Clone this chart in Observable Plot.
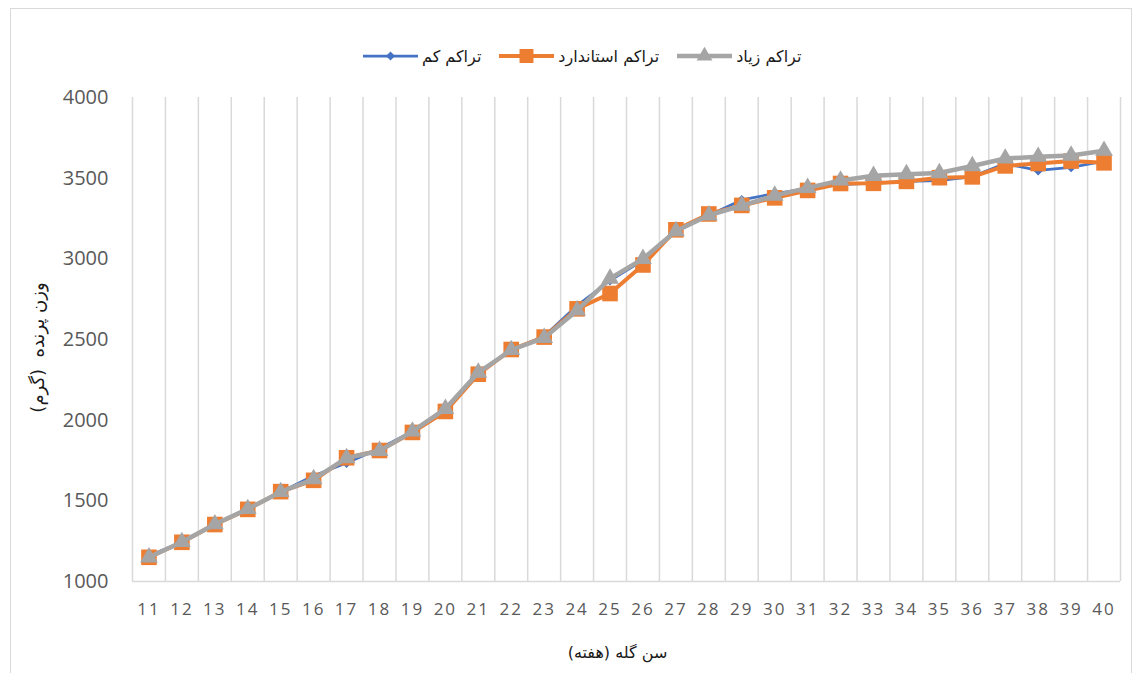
<!DOCTYPE html>
<html>
<head>
<meta charset="utf-8">
<script src="https://cdn.jsdelivr.net/npm/d3@7"></script>
<script src="https://cdn.jsdelivr.net/npm/@observablehq/plot@0.6"></script>
<style>
  body { margin: 0; background: #fff; }
  #wrap { position: relative; width: 1139px; height: 673px; overflow: hidden; background: #fff; }
  #frame { position: absolute; left: 10px; top: 8px; width: 1122px; height: 700px; border: 1px solid #d9d9d9; box-sizing: border-box; }
  #legend { position: absolute; left: 363px; top: 44px; height: 24px; display: flex; align-items: center; gap: 18px; direction: ltr; }
  .item { display: flex; align-items: center; }
  .item span { font-family: "DejaVu Sans", sans-serif; font-size: 16px; color: #1a1a1a; margin-left: 4px; direction: rtl; unicode-bidi: embed; }
  #chart { position: absolute; left: 0; top: 80px; }
  g[aria-label="x-axis tick label"] text { letter-spacing: 2px; }
</style>
</head>
<body>
<div id="wrap">
  <div id="frame"></div>
  <div id="legend"></div>
  <div id="chart"></div>
</div>
<script>
// ---- data ----
const weeks = [11,12,13,14,15,16,17,18,19,20,21,22,23,24,25,26,27,28,29,30,31,32,33,34,35,36,37,38,39,40];
const lowDensity = [1160,1245,1355,1450,1555,1655,1735,1825,1930,2060,2290,2435,2520,2710,2865,2990,3170,3270,3365,3405,3435,3460,3470,3480,3485,3510,3590,3548,3567,3605];
const standardDensity = [1150,1243,1353,1447,1557,1627,1767,1812,1924,2054,2285,2438,2515,2690,2785,2962,3180,3278,3331,3378,3424,3467,3468,3480,3503,3508,3576,3591,3606,3595];
const highDensity = [1150,1245,1355,1450,1555,1635,1765,1810,1930,2070,2295,2435,2510,2680,2878,3000,3172,3270,3330,3392,3440,3486,3515,3525,3532,3575,3622,3633,3640,3670];
const seriesNames = ["تراکم کم", "تراکم استاندارد", "تراکم زیاد"];
const yTicks = [1000,1500,2000,2500,3000,3500,4000];
const xTitle = "سن گله (هفته)";
const yTitle = "وزن پرنده  (گرم)";

const series = [
  {name: seriesNames[0], values: lowDensity, color: "#4472C4", symbol: "diamond2", r: 4.5, sw: 2.75},
  {name: seriesNames[1], values: standardDensity, color: "#ED7D31", symbol: "square", r: 8.8, sw: 4},
  {name: seriesNames[2], values: highDensity, color: "#A5A5A5", symbol: "triangle", r: 6.6, sw: 4.5}
];
const gridX = weeks.map(w => w - 0.5).concat([weeks[weeks.length - 1] + 0.5]);
const rtl = s => "\u202B" + s + "\u202C";

const marks = [
  Plot.ruleX(gridX, {stroke: "#d9d9d9", strokeWidth: 1.5}),
  Plot.ruleY([yTicks[0]], {stroke: "#d9d9d9", strokeWidth: 1.5}),
  Plot.axisY({ticks: yTicks, tickSize: 0, tickPadding: 24, fontSize: 20, label: null, tickFormat: d => String(d)}),
  Plot.axisX({ticks: weeks, tickSize: 0, tickPadding: 21, fontSize: 17, label: null, tickFormat: d => String(d)})
];
for (const s of series) {
  const rows = weeks.map((w, i) => ({week: w, value: s.values[i]}));
  marks.push(Plot.line(rows, {x: "week", y: "value", stroke: s.color, strokeWidth: s.sw}));
  marks.push(Plot.dot(rows, {x: "week", y: "value", symbol: () => s.symbol, r: s.r, fill: s.color, stroke: "none"}));
}
marks.push(Plot.text([yTitle], {text: d => rtl(d), frameAnchor: "left", textAnchor: "middle", lineAnchor: "middle", dx: -94, dy: 8, rotate: -90, fontSize: 18, fontFamily: "DejaVu Sans", fill: "#1a1a1a"}));
marks.push(Plot.text([xTitle], {text: d => rtl(d), frameAnchor: "bottom", textAnchor: "middle", lineAnchor: "middle", dx: -9, dy: 71, fontSize: 16, fontFamily: "DejaVu Sans", fill: "#1a1a1a"}));

const chart = Plot.plot({
  width: 1139,
  height: 593,
  marginLeft: 132,
  marginRight: 19,
  marginTop: 17,
  marginBottom: 92,
  x: {type: "linear", domain: [weeks[0] - 0.5, weeks[weeks.length - 1] + 0.5]},
  y: {domain: [yTicks[0], yTicks[yTicks.length - 1]]},
  style: {color: "#595959", fontFamily: "'Open Sans', sans-serif", background: "transparent", overflow: "visible"},
  marks
});
document.getElementById("chart").appendChild(chart);

// legend
const legend = d3.select("#legend");
const symMap = {diamond2: d3.symbolDiamond2, square: d3.symbolSquare, triangle: d3.symbolTriangle};
for (const s of series) {
  const item = legend.append("div").attr("class", "item");
  const svg = item.append("svg").attr("width", 55).attr("height", 20);
  svg.append("line").attr("x1", 0).attr("x2", 55).attr("y1", 10).attr("y2", 10)
    .attr("stroke", s.color).attr("stroke-width", s.sw);
  svg.append("path").attr("transform", "translate(27.5,10)")
    .attr("d", d3.symbol(symMap[s.symbol], Math.PI * s.r * s.r * 0.8)())
    .attr("fill", s.color);
  item.append("span").text(s.name);
}
</script>
</body>
</html>
